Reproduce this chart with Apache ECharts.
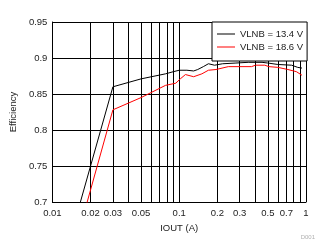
<!DOCTYPE html>
<html><head><meta charset="utf-8">
<script src="https://cdn.jsdelivr.net/npm/echarts@6/dist/echarts.min.js"></script>
<style>html,body{margin:0;padding:0;background:#fff}#c{width:334px;height:249px}</style>
</head><body><div id="c"></div>
<script>
var seriesNames = ['VLNB = 13.4 V', 'VLNB = 18.6 V'];
var iout134 = [0.015, 0.02, 0.03, 0.05, 0.078, 0.09, 0.1, 0.115, 0.13, 0.14, 0.155, 0.17, 0.19, 0.22, 0.28, 0.35, 0.45, 0.5, 0.6, 0.77, 0.86, 0.93];
var eff134  = [0.672, 0.75, 0.86, 0.871, 0.878, 0.881, 0.883, 0.883, 0.882, 0.884, 0.888, 0.892, 0.890, 0.892, 0.893, 0.894, 0.894, 0.893, 0.891, 0.890, 0.887, 0.886];
var iout186 = [0.015, 0.03, 0.05, 0.078, 0.094, 0.102, 0.112, 0.13, 0.151, 0.17, 0.195, 0.244, 0.372, 0.40, 0.473, 0.51, 0.6, 0.72, 0.84, 0.93];
var eff186  = [0.638, 0.828, 0.845, 0.862, 0.865, 0.871, 0.877, 0.874, 0.878, 0.883, 0.884, 0.888, 0.888, 0.890, 0.890, 0.888, 0.887, 0.884, 0.881, 0.876];
var xGridValues = [0.01,0.02,0.03,0.04,0.05,0.06,0.07,0.08,0.09,0.1,0.2,0.3,0.4,0.5,0.6,0.7,0.8,0.9,1];
var xTickLabels = [0.01,0.02,0.03,0.05,0.1,0.2,0.3,0.5,0.7,1];
var xName = 'IOUT (A)';
var yName = 'Efficiency';
var footnote = 'D001';

function pairs(xs, ys){ return xs.map(function(x,i){ return [x, ys[i]]; }); }
var font = 'Liberation Sans, Arial, sans-serif';
var lineIcon = 'path://M0,0 H18 V1 H0 Z';
var chart = echarts.init(document.getElementById('c'), null, {renderer:'canvas'});
chart.setOption({
  animation: false,
  backgroundColor: '#fff',
  title: { text: footnote, right: 14, top: 229, textStyle: { fontSize: 6, color: '#b0b0b0', fontWeight: 'normal', fontFamily: font } },
  grid: { left: 50, right: 28, top: 22, bottom: 47 },
  legend: {
    orient: 'vertical', left: 212, top: 22,
    padding: [7, 4, 9, 5], itemGap: 3, itemWidth: 18, itemHeight: 12,
    backgroundColor: '#fff', borderColor: '#000', borderWidth: 1,
    textStyle: { fontSize: 9.5, color: '#222', fontFamily: font },
    data: [
      { name: seriesNames[0], icon: lineIcon, itemStyle: { color: '#000' } },
      { name: seriesNames[1], icon: lineIcon, itemStyle: { color: '#ff0000' } }
    ]
  },
  xAxis: {
    type: 'log', logBase: 10, min: 0.01, max: 1,
    name: xName, nameLocation: 'middle', nameGap: 15,
    nameTextStyle: { fontSize: 9.5, color: '#222', fontFamily: font },
    axisLine: { lineStyle: { color: '#000', width: 1 } },
    axisTick: { show: false, customValues: xGridValues },
    axisLabel: { customValues: xTickLabels, fontSize: 9.5, color: '#222', fontFamily: font, margin: 6,
      formatter: function(v){ return String(parseFloat(Number(v).toPrecision(6))); } },
    splitLine: { show: true, lineStyle: { color: '#000', width: 1 } }
  },
  yAxis: {
    type: 'value', min: 0.7, max: 0.95, interval: 0.05,
    name: yName, nameLocation: 'middle', nameGap: 28,
    nameTextStyle: { fontSize: 9.5, color: '#222', fontFamily: font },
    axisLine: { show: true, lineStyle: { color: '#000', width: 1 } },
    axisTick: { show: false },
    axisLabel: { fontSize: 9.5, color: '#222', fontFamily: font, margin: 5 },
    splitLine: { show: true, lineStyle: { color: '#000', width: 1 } }
  },
  series: [
    { name: seriesNames[0], type: 'line', data: pairs(iout134, eff134), symbol: 'none', clip: true,
      lineStyle: { color: '#000', width: 1 }, itemStyle: { color: '#000' } },
    { name: seriesNames[1], type: 'line', data: pairs(iout186, eff186), symbol: 'none', clip: true,
      lineStyle: { color: '#ff0000', width: 1 }, itemStyle: { color: '#ff0000' } }
  ]
});
</script></body></html>
